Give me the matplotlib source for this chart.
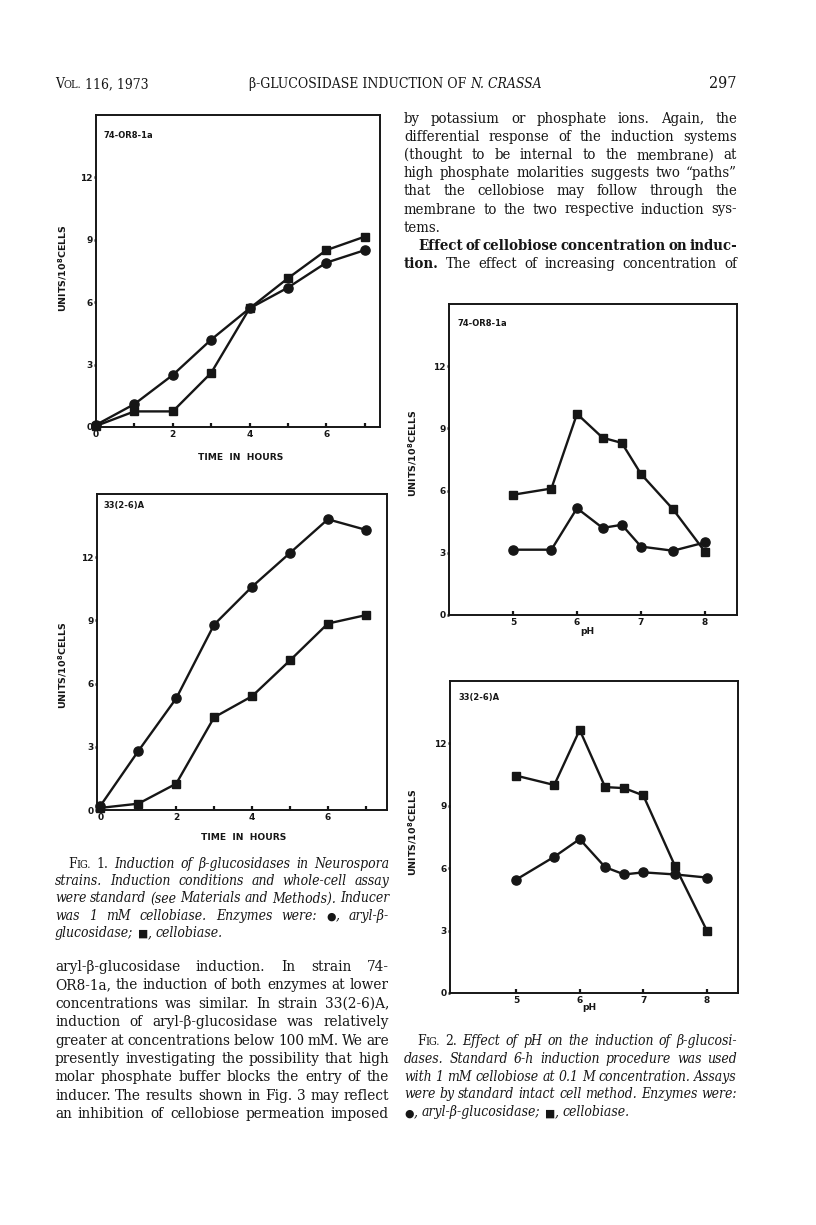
#!/usr/bin/env python3
"""Page 297 of the N. crassa beta-glucosidase paper: Fig. 1 (time course),
Fig. 2 (pH curves) and the surrounding two-column text."""
import os

import matplotlib
matplotlib.use("Agg")
import matplotlib.pyplot as plt
from matplotlib import font_manager as fm

W, H = 816, 1225
INK = "#161616"
SERIF = ["DejaVu Serif", "DejaVu Sans"]
SANS = ["DejaVu Sans"]
SYMBOLS = "\u25cf\u25a0"

# ---- data ----------------------------------------------------------------
hours = [0, 1, 2, 3, 4, 5, 6, 7]
ph = [5.0, 5.6, 6.0, 6.4, 6.7, 7.0, 7.5, 8.0]

aryl_74_time = [0.1, 1.1, 2.5, 4.2, 5.7, 6.7, 7.9, 8.5]
cello_74_time = [0.05, 0.75, 0.75, 2.6, 5.7, 7.15, 8.5, 9.15]
aryl_33_time = [0.2, 2.8, 5.3, 8.8, 10.6, 12.2, 13.8, 13.3]
cello_33_time = [0.1, 0.3, 1.25, 4.4, 5.4, 7.1, 8.85, 9.25]

aryl_74_ph = [3.15, 3.15, 5.15, 4.2, 4.35, 3.3, 3.1, 3.5]
cello_74_ph = [5.8, 6.1, 9.7, 8.55, 8.3, 6.8, 5.1, 3.05]
aryl_33_ph = [5.45, 6.55, 7.4, 6.05, 5.7, 5.8, 5.7, 5.55]
cello_33_ph = [10.45, 10.0, 12.65, 9.9, 9.85, 9.5, 6.1, 3.0]

y_ticks = [0, 3, 6, 9, 12]
hour_ticks = [0, 2, 4, 6]
hour_minor = [1, 3, 5, 7]
ph_ticks = [5, 6, 7, 8]

# ---- text ------------------------------------------------------------------
# prefixes: ~ roman, _ italic, ! bold, % small caps; ">" indent, "|" not justified
right_text = [
    "by potassium or phosphate ions. Again, the",
    "differential response of the induction systems",
    "(thought to be internal to the membrane) at",
    "high phosphate molarities suggests two \u201cpaths\u201d",
    "that the cellobiose may follow through the",
    "membrane to the two respective induction sys-",
    "tems.|",
    ">!Effect !of !cellobiose !concentration !on !induc-",
    "!tion. The effect of increasing concentration of",
]
fig1_caption = [
    ">~%FIG. ~1. Induction of \u03b2-glucosidases in Neurospora",
    "strains. Induction conditions and whole-cell assay",
    "were standard (see Materials and Methods). Inducer",
    "was 1 mM cellobiase. Enzymes were: \u25cf, aryl-\u03b2-",
    "glucosidase; \u25a0, cellobiase.|",
]
left_text = [
    "aryl-\u03b2-glucosidase induction. In strain 74-",
    "OR8-1a, the induction of both enzymes at lower",
    "concentrations was similar. In strain 33(2-6)A,",
    "induction of aryl-\u03b2-glucosidase was relatively",
    "greater at concentrations below 100 mM. We are",
    "presently investigating the possibility that high",
    "molar phosphate buffer blocks the entry of the",
    "inducer. The results shown in Fig. 3 may reflect",
    "an inhibition of cellobiose permeation imposed",
]
fig2_caption = [
    ">~%FIG. ~2. Effect of pH on the induction of \u03b2-glucosi-",
    "dases. Standard 6-h induction procedure was used",
    "with 1 mM cellobiose at 0.1 M concentration. Assays",
    "were by standard intact cell method. Enzymes were:",
    "\u25cf, aryl-\u03b2-glucosidase; \u25a0, cellobiase.|",
]


def find_font(name):
    for f in fm.fontManager.ttflist:
        if os.path.basename(f.fname) == name:
            return f.fname
    return None


# a condensed serif is closer to the narrow book face; fall back if missing
CONDENSED = {
    ("normal", "normal"): find_font("DejaVuSerifCondensed.ttf"),
    ("italic", "normal"): find_font("DejaVuSerifCondensed-Italic.ttf"),
    ("normal", "bold"): find_font("DejaVuSerifCondensed-Bold.ttf"),
}

fig = plt.figure(figsize=(W / 100, H / 100), dpi=100)
fig.patch.set_facecolor("white")
renderer = fig.canvas.get_renderer()


def fx(x):
    return x / W


def fy(y):
    return 1 - y / H


def serif_kw(size, style="normal", weight="normal"):
    path = CONDENSED.get((style, weight))
    if path:
        return dict(fontproperties=fm.FontProperties(fname=path, size=size), color=INK)
    return dict(fontsize=size, fontstyle=style, fontweight=weight, family=SERIF, color=INK)


def measure(s, kw):
    t = fig.text(0, 0, s, **kw)
    w = t.get_window_extent(renderer=renderer).width
    t.remove()
    return w


def pieces(token, size, style, weight):
    small = False
    while token and token[0] in "~_!%":
        c, token = token[0], token[1:]
        if c == "~":
            style = "normal"
        elif c == "_":
            style = "italic"
        elif c == "!":
            weight = "bold"
        else:
            small = True
    kw = serif_kw(size, style, weight)
    if small:
        return [(token[0], kw), (token[1:], serif_kw(size * 0.78, style, weight))]
    if token and token[0] in SYMBOLS:
        sym = dict(fontsize=size * 0.78, family=SANS, color=INK)
        out = [(token[0], sym)]
        if token[1:]:
            out.append((token[1:], kw))
        return out
    return [(token, kw)]


def parse(line):
    indent = line.startswith(">")
    just = not line.endswith("|")
    line = line.strip(">|")
    return indent, just, line.split(" ")


def token_width(tok, size, style):
    return sum(measure(s, kw) for s, kw in pieces(tok, size, style, "normal"))


def fit_size(lines, width, size, style, indent_px, min_gap=2.2):
    best = size
    for line in lines:
        indent, just, toks = parse(line)
        nat = sum(token_width(t, size, style) for t in toks)
        room = width - (indent_px if indent else 0) - min_gap * (len(toks) - 1)
        best = min(best, size * room / nat)
    return best


def draw_block(lines, x0, x1, y0, step, size, style="normal", indent_px=14):
    size = fit_size(lines, x1 - x0, size, style, indent_px)
    kw = serif_kw(size)
    space = measure("a a", kw) - measure("aa", kw)
    for i, line in enumerate(lines):
        indent, just, toks = parse(line)
        start = x0 + (indent_px if indent else 0)
        widths = [token_width(t, size, style) for t in toks]
        gap = (x1 - start - sum(widths)) / (len(toks) - 1) if just and len(toks) > 1 else space
        x = start
        y = y0 + i * step
        for tok, wd in zip(toks, widths):
            px = x
            for s, k in pieces(tok, size, style, "normal"):
                fig.text(fx(px), fy(y), s, ha="left", va="baseline", **k)
                px += measure(s, k)
            x += wd + gap


# ---- running head ----------------------------------------------------------
head = serif_kw(10.0)
head_it = serif_kw(10.0, "italic")
x = 55
for s, k in pieces("%VOL.", 10.0, "normal", "normal"):
    fig.text(fx(x), fy(88), s, ha="left", va="baseline", **k)
    x += measure(s, k)
fig.text(fx(x + 3), fy(88), "116, 1973", ha="left", va="baseline", **head)

title_a = "\u03b2-GLUCOSIDASE INDUCTION OF"
title_b = "N. CRASSA"
wa = measure(title_a, head) + measure("a a", head) - measure("aa", head)
wb = measure(title_b, head_it)
tx = 395 - (wa + wb) / 2
fig.text(fx(tx), fy(88), title_a, ha="left", va="baseline", **head)
fig.text(fx(tx + wa), fy(88), title_b, ha="left", va="baseline", **head_it)
fig.text(fx(737), fy(88), "297", ha="right", va="baseline", **serif_kw(11.5))

# ---- text columns ----------------------------------------------------------
draw_block(right_text, 404, 737, 123, 18.1, 11.0)
draw_block(fig1_caption, 55, 389, 868, 17.2, 10.0, style="italic", indent_px=13)
draw_block(left_text, 55, 389, 971, 18.4, 11.0)
draw_block(fig2_caption, 404, 737, 1045, 17.8, 10.0, style="italic", indent_px=13)

# ---- chart panels ----------------------------------------------------------
YLABEL = r"UNITS/10$^{\mathbf{8}}$CELLS"


def panel(box, x, aryl, cello, xlim, ticks, minor, strain, strain_pos,
          xlabel, xlabel_pos, ylabel_pos):
    l, t, r, b = box
    ax = fig.add_axes([fx(l), fy(b), (r - l) / W, (b - t) / H])
    ax.plot(x, aryl, color=INK, lw=1.7, marker="o", ms=6.6, clip_on=False, zorder=3)
    ax.plot(x, cello, color=INK, lw=1.7, marker="s", ms=6.0, clip_on=False, zorder=3)
    ax.set_xlim(*xlim)
    ax.set_ylim(0, 15)
    ax.set_xticks(ticks)
    ax.set_xticks(minor, minor=True)
    ax.set_yticks(y_ticks)
    ax.tick_params(axis="x", which="both", direction="in", length=3, width=1.6,
                   pad=2, labelsize=6.5, colors=INK)
    ax.tick_params(axis="y", direction="out", length=1.5, width=1.8, pad=1,
                   labelsize=6.5, colors=INK)
    for lab in ax.get_xticklabels() + ax.get_yticklabels():
        lab.set_fontweight("bold")
        lab.set_family(SANS)
    for s in ax.spines.values():
        s.set_linewidth(1.4)
        s.set_color(INK)
    fig.text(fx(strain_pos[0]), fy(strain_pos[1]), strain, ha="left", va="center",
             fontsize=6.0, fontweight="bold", family=SANS, color=INK)
    fig.text(fx(xlabel_pos[0]), fy(xlabel_pos[1]), xlabel, ha="center", va="center",
             fontsize=6.6, fontweight="bold", family=SANS, color=INK)
    fig.text(fx(ylabel_pos[0]), fy(ylabel_pos[1]), YLABEL, ha="center", va="center",
             rotation=90, fontsize=6.8, fontweight="bold", family=SANS, color=INK)
    return ax


panel((96, 115, 380, 427), hours, aryl_74_time, cello_74_time, (0, 7.4),
      hour_ticks, hour_minor, "74-OR8-1a", (103, 136),
      "TIME  IN  HOURS", (241, 458), (63, 268))
panel((97, 494, 387, 810), hours, aryl_33_time, cello_33_time, (-0.09, 7.56),
      hour_ticks, hour_minor, "33(2-6)A", (103, 505),
      "TIME  IN  HOURS", (244, 838), (63, 665))
panel((449, 304, 737, 615), ph, aryl_74_ph, cello_74_ph, (4.0, 8.5),
      ph_ticks, [], "74-OR8-1a", (458, 323),
      "pH", (587, 631), (413, 453))
panel((450, 681, 738, 993), ph, aryl_33_ph, cello_33_ph, (3.96, 8.49),
      ph_ticks, [], "33(2-6)A", (458, 697),
      "pH", (589, 1008), (413, 832))

fig.savefig("out.png", dpi=100, facecolor="white")
